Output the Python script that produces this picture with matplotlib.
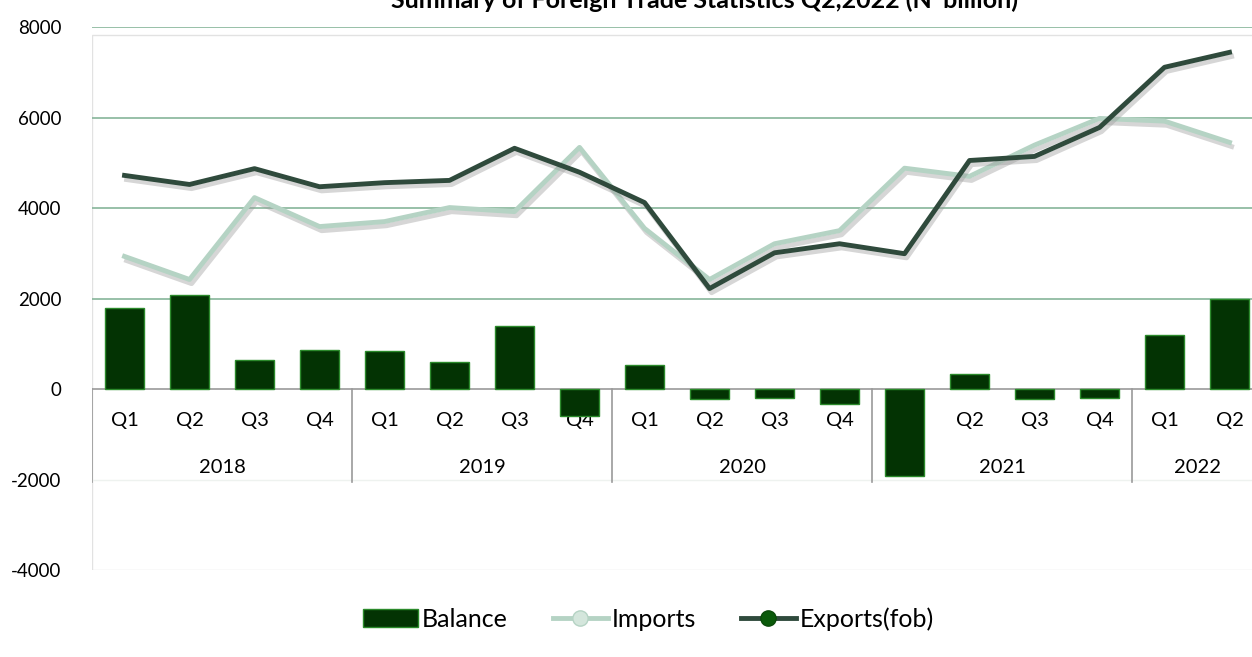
import numpy as np
import matplotlib.pyplot as plt
import matplotlib.patheffects as pe
from matplotlib.patches import Patch, Rectangle
from matplotlib.lines import Line2D

plt.rcParams['font.family'] = ['Lato', 'DejaVu Sans']
plt.rcParams['axes.unicode_minus'] = False

years = ['2018', '2019', '2020', '2021', '2022']
quarters = ['Q1', 'Q2', 'Q3', 'Q4'] * 4 + ['Q1', 'Q2']
balance = [1780, 2080, 640, 870, 830, 600, 1400, -600,
           520, -220, -200, -330, -1930, 330, -220, -200, 1200, 2000]
imports = [2930, 2420, 4230, 3590, 3700, 4010, 3920, 5340,
           3550, 2420, 3210, 3500, 4880, 4700, 5390, 5980, 5920, 5450]
exports = [4720, 4520, 4870, 4470, 4560, 4610, 5320, 4790,
           4120, 2220, 3010, 3210, 2990, 5050, 5140, 5780, 7110, 7440]

c_bar = '#033303'
c_edge = '#2b8a2b'
c_imp = '#b5d3c4'
c_exp = '#2f4a3c'
c_grid = '#86b59a'

fig = plt.figure(figsize=(12.52, 6.57), dpi=100)
ax = fig.add_axes([0.0735, 0.1324, 0.9345, 0.8265])
x = np.arange(len(quarters))

# boxed plot area with a soft shadow
box = Rectangle((0, 0), 1, 0.985, transform=ax.transAxes, facecolor='white',
                edgecolor='#e2e2e2', lw=1, zorder=0,
                path_effects=[pe.SimplePatchShadow(offset=(2, -3), shadow_rgbFace='#999999', alpha=0.5), pe.Normal()])
ax.add_patch(box)

for v in [2000, 4000, 6000, 8000]:
    ax.axhline(v, color=c_grid, lw=1.2, zorder=1)
ax.axhline(-2000, color='#eef2ef', lw=1, zorder=1)
ax.axhline(0, color='#9a9a9a', lw=1.2, zorder=2)

# category axis: quarters and years
for i, q in enumerate(quarters):
    ax.text(i, -700, q, ha='center', va='center', fontsize=14.5, zorder=1)
starts = [0, 4, 8, 12, 16]
for k, yr in enumerate(years):
    s = starts[k]
    e = starts[k + 1] if k + 1 < len(starts) else len(quarters)
    ax.text((s + e - 1) / 2, -1730, yr, ha='center', va='center', fontsize=14.5, zorder=1)
    ax.plot([s - 0.5, s - 0.5], [0, -2050], color='#9a9a9a', lw=1.2, zorder=1)

ax.bar(x, balance, width=0.6, color=c_bar, edgecolor=c_edge, lw=1, zorder=3)

shadow = [pe.SimpleLineShadow(offset=(1.5, -3), shadow_color='#999999', alpha=0.4), pe.Normal()]
ax.plot(x, imports, color=c_imp, lw=3.5, zorder=4, path_effects=shadow)
ax.plot(x, exports, color=c_exp, lw=3.5, zorder=5, path_effects=shadow)

ax.set_xlim(-0.5, len(quarters) - 0.5)
ax.set_ylim(-4000, 8000)
ax.set_yticks(range(-4000, 8001, 2000))
ax.set_xticks([])
ax.tick_params(axis='y', length=0, labelsize=13.5, pad=22)
for s in ax.spines.values():
    s.set_visible(False)

fig.text(0.563, 1.0, "Summary of Foreign Trade Statistics Q2,2022 (N' billion)",
         ha='center', va='center', fontsize=18, fontweight='bold')

handles = [Patch(facecolor=c_bar, edgecolor=c_edge),
           Line2D([], [], color=c_imp, lw=3.5, marker='o', markersize=11,
                  markerfacecolor='#d4e6dc', markeredgecolor=c_imp),
           Line2D([], [], color=c_exp, lw=3.5, marker='o', markersize=11,
                  markerfacecolor='#0a5a0a', markeredgecolor='#0a4a0a')]
fig.legend(handles, ['Balance', 'Imports', 'Exports(fob)'], loc='center',
           bbox_to_anchor=(0.518, 0.058), ncol=3, frameon=False, fontsize=18,
           handlelength=2.2, handletextpad=0.15, columnspacing=1.8)

fig.savefig('out.png', dpi=100)
